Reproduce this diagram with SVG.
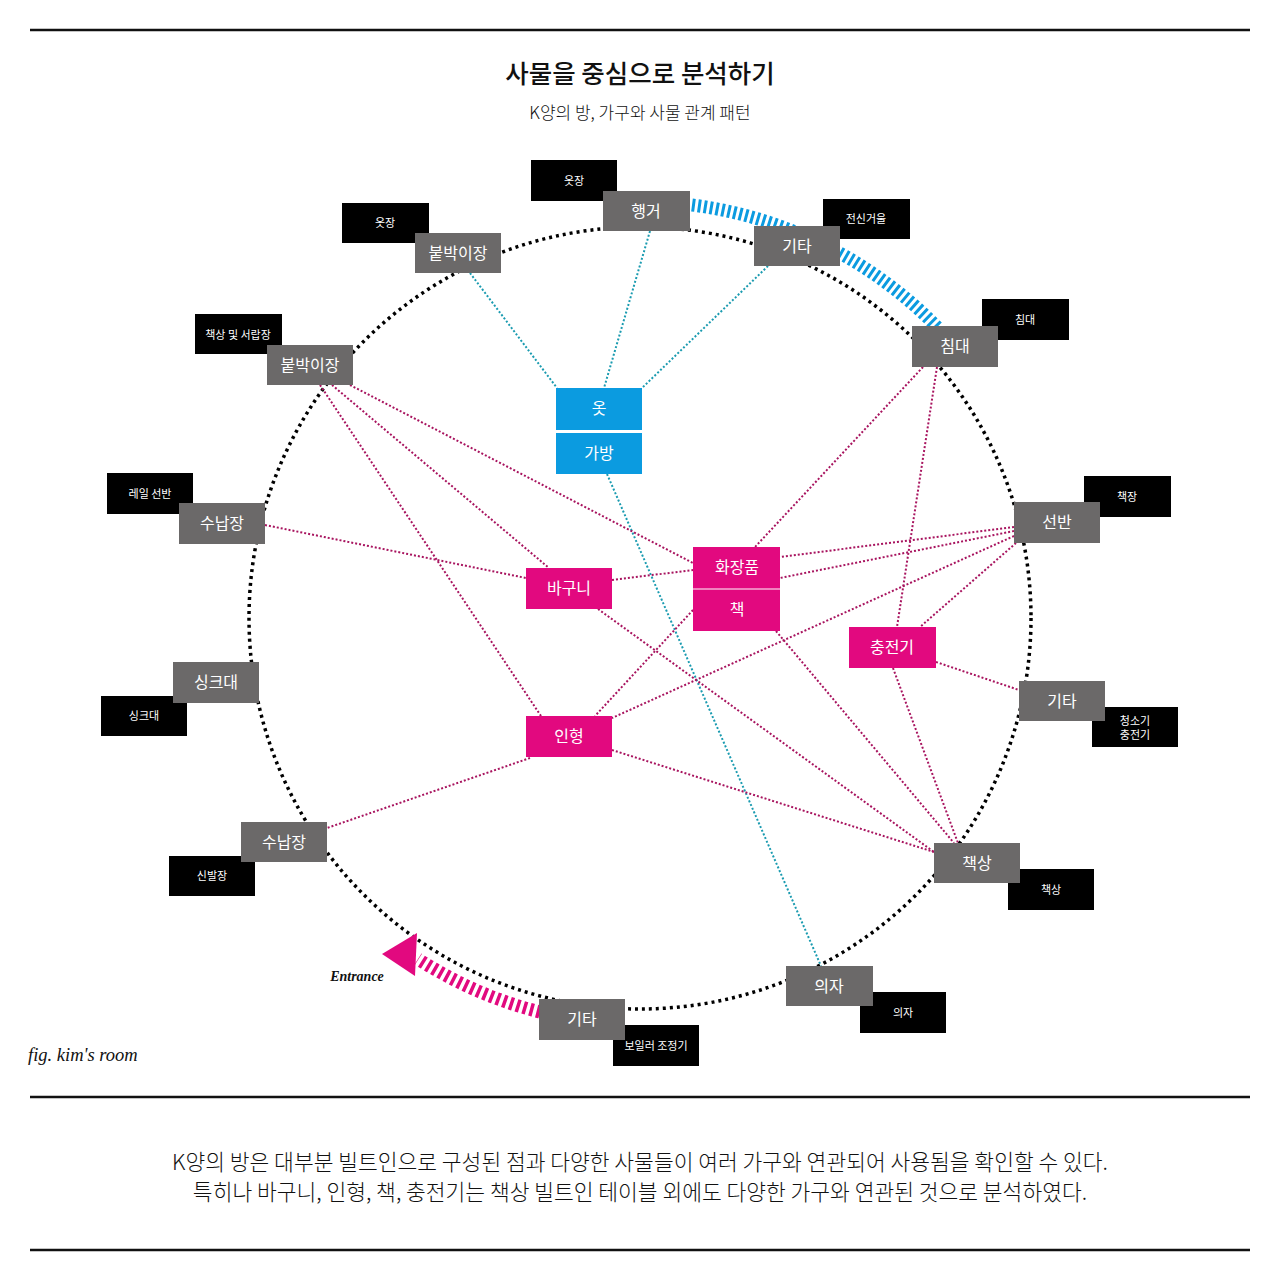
<svg xmlns="http://www.w3.org/2000/svg" width="1280" height="1280" viewBox="0 0 1280 1280">
<style>
.rule{stroke:#111;stroke-width:2.5}
.g{fill:#6b6969}
.k{fill:#000}
.b{fill:#0b9be0}
.p{fill:#e2097f}
.gt{font-family:"Noto Sans CJK KR","Noto Sans",sans-serif;font-size:16px;fill:#fff;text-anchor:middle}
.kt{font-family:"Noto Sans CJK KR","Noto Sans",sans-serif;font-size:11px;fill:#fff;text-anchor:middle}
.pl{stroke:#a8145f;stroke-width:2;stroke-dasharray:2 2;fill:none}
.bl{stroke:#1a9bb0;stroke-width:2;stroke-dasharray:2 2;fill:none}
</style>
<rect width="1280" height="1280" fill="#fff"/>
<line class="rule" x1="30" y1="30" x2="1250" y2="30"/>
<line class="rule" x1="30" y1="1097" x2="1250" y2="1097"/>
<line class="rule" x1="30" y1="1250" x2="1250" y2="1250"/>
<text x="640" y="83" font-family="Noto Sans CJK KR,sans-serif" font-size="25.5" font-weight="500" text-anchor="middle" fill="#111">사물을 중심으로 분석하기</text>
<text x="640" y="119" font-family="Noto Sans CJK KR,sans-serif" font-size="17" font-weight="300" text-anchor="middle" fill="#111">K양의 방, 가구와 사물 관계 패턴</text>
<g id="circle">
<circle cx="640" cy="618" r="391" fill="none" stroke="#000" stroke-width="3.5" stroke-dasharray="3 4"/>
<path d="M 692 205 A 416 416 0 0 1 938 328" fill="none" stroke="#0b9be0" stroke-width="13" stroke-dasharray="3 3"/>
<path d="M 540 1012 A 407 407 0 0 1 418 959" fill="none" stroke="#e2097f" stroke-width="13" stroke-dasharray="3.5 3.5"/>
<polygon points="382,954 417,933 415,976" fill="#e2097f"/>
</g>
<g id="connectors">
<line class="bl" x1="470" y1="273" x2="557" y2="388"/>
<line class="bl" x1="650" y1="231" x2="604" y2="388"/>
<line class="bl" x1="768" y1="266" x2="642" y2="388"/>
<line class="bl" x1="607" y1="474" x2="821" y2="966"/>
<line class="pl" x1="350" y1="385" x2="693" y2="563"/>
<line class="pl" x1="332" y1="385" x2="549" y2="568"/>
<line class="pl" x1="320" y1="385" x2="541" y2="716"/>
<line class="pl" x1="265" y1="525" x2="526" y2="578"/>
<line class="pl" x1="612" y1="580" x2="693" y2="570"/>
<line class="pl" x1="598" y1="609" x2="934" y2="852"/>
<line class="pl" x1="923" y1="367" x2="755" y2="547"/>
<line class="pl" x1="937" y1="367" x2="897" y2="627"/>
<line class="pl" x1="1014" y1="527" x2="780" y2="557"/>
<line class="pl" x1="1014" y1="531" x2="780" y2="578"/>
<line class="pl" x1="1014" y1="536" x2="612" y2="718"/>
<line class="pl" x1="1016" y1="543" x2="920" y2="627"/>
<line class="pl" x1="936" y1="662" x2="1019" y2="690"/>
<line class="pl" x1="893" y1="668" x2="958" y2="843"/>
<line class="pl" x1="776" y1="631" x2="954" y2="843"/>
<line class="pl" x1="693" y1="610" x2="595" y2="716"/>
<line class="pl" x1="612" y1="750" x2="934" y2="852"/>
<line class="pl" x1="530" y1="758" x2="327" y2="828"/>
</g>
<g id="n-hanger"><rect class="k" x="531" y="160" width="86" height="41"/><text class="kt" x="574" y="185">옷장</text><rect class="g" x="603" y="191" width="87" height="40"/><text class="gt" x="646" y="217">행거</text></g>
<g id="n-closet-top"><rect class="k" x="342" y="203" width="87" height="40"/><text class="kt" x="385" y="227">옷장</text><rect class="g" x="415" y="233" width="86" height="40"/><text class="gt" x="458" y="259">붙박이장</text></g>
<g id="n-etc-top"><rect class="k" x="823" y="199" width="87" height="40"/><text class="kt" x="866" y="223">전신거울</text><rect class="g" x="754" y="226" width="86" height="40"/><text class="gt" x="797" y="252">기타</text></g>
<g id="n-bed"><rect class="k" x="982" y="299" width="87" height="41"/><text class="kt" x="1025" y="324">침대</text><rect class="g" x="912" y="326" width="86" height="41"/><text class="gt" x="955" y="352">침대</text></g>
<g id="n-closet-left"><rect class="k" x="195" y="314" width="87" height="40"/><text class="kt" x="238" y="339">책상 및 서랍장</text><rect class="g" x="267" y="345" width="86" height="40"/><text class="gt" x="310" y="371">붙박이장</text></g>
<g id="n-storage"><rect class="k" x="107" y="473" width="86" height="41"/><text class="kt" x="150" y="498">레일 선반</text><rect class="g" x="179" y="503" width="86" height="41"/><text class="gt" x="222" y="529">수납장</text></g>
<g id="n-sink"><rect class="k" x="101" y="696" width="86" height="40"/><text class="kt" x="144" y="720">싱크대</text><rect class="g" x="173" y="662" width="86" height="41"/><text class="gt" x="216" y="688">싱크대</text></g>
<g id="n-storage-low"><rect class="k" x="169" y="856" width="86" height="40"/><text class="kt" x="212" y="880">신발장</text><rect class="g" x="241" y="822" width="86" height="40"/><text class="gt" x="284" y="848">수납장</text></g>
<g id="n-etc-bottom"><rect class="k" x="613" y="1025" width="86" height="41"/><text class="kt" x="656" y="1050">보일러 조정기</text><rect class="g" x="539" y="999" width="86" height="41"/><text class="gt" x="582" y="1025">기타</text></g>
<g id="n-chair"><rect class="k" x="860" y="992" width="86" height="41"/><text class="kt" x="903" y="1017">의자</text><rect class="g" x="786" y="966" width="87" height="40"/><text class="gt" x="829" y="992">의자</text></g>
<g id="n-desk"><rect class="k" x="1008" y="869" width="86" height="41"/><text class="kt" x="1051" y="894">책상</text><rect class="g" x="934" y="843" width="86" height="40"/><text class="gt" x="977" y="869">책상</text></g>
<g id="n-etc-right"><rect class="k" x="1092" y="707" width="86" height="40"/><text class="kt" x="1135" y="725">청소기</text><text class="kt" x="1135" y="739">충전기</text><rect class="g" x="1019" y="681" width="86" height="40"/><text class="gt" x="1062" y="707">기타</text></g>
<g id="n-shelf"><rect class="k" x="1084" y="476" width="87" height="41"/><text class="kt" x="1127" y="501">책장</text><rect class="g" x="1014" y="502" width="86" height="41"/><text class="gt" x="1057" y="528">선반</text></g>
<g id="n-clothes"><rect class="b" x="556" y="388" width="86" height="42"/><text class="gt" x="599" y="414" font-size="15">옷</text></g>
<g id="n-bag"><rect class="b" x="556" y="433" width="86" height="41"/><text class="gt" x="599" y="459" font-size="15">가방</text></g>
<g id="n-cosmetics"><rect class="p" x="693" y="547" width="87" height="84"/><line x1="693" y1="589" x2="780" y2="589" stroke="#fff" stroke-width="1"/><text class="gt" x="737" y="573" font-size="15">화장품</text><text class="gt" x="737" y="615" font-size="15">책</text></g>
<g id="n-basket"><rect class="p" x="526" y="568" width="86" height="41"/><text class="gt" x="569" y="594" font-size="15">바구니</text></g>
<g id="n-charger"><rect class="p" x="849" y="627" width="87" height="41"/><text class="gt" x="892" y="653" font-size="15">충전기</text></g>
<g id="n-doll"><rect class="p" x="526" y="716" width="86" height="41"/><text class="gt" x="569" y="742" font-size="15">인형</text></g>
<text x="357" y="981" font-family="Liberation Serif,serif" font-size="14" font-style="italic" font-weight="bold" text-anchor="middle" fill="#111">Entrance</text>
<text x="28" y="1061" font-family="Liberation Serif,serif" font-size="18.5" font-style="italic" fill="#111">fig. kim's room</text>
<text x="640" y="1170" font-family="Noto Sans CJK KR,sans-serif" font-size="21.5" font-weight="300" text-anchor="middle" fill="#111">K양의 방은 대부분 빌트인으로 구성된 점과 다양한 사물들이 여러 가구와 연관되어 사용됨을 확인할 수 있다.</text>
<text x="640" y="1200" font-family="Noto Sans CJK KR,sans-serif" font-size="21.5" font-weight="300" text-anchor="middle" fill="#111">특히나 바구니, 인형, 책, 충전기는 책상 빌트인 테이블 외에도 다양한 가구와 연관된 것으로 분석하였다.</text>
</svg>
